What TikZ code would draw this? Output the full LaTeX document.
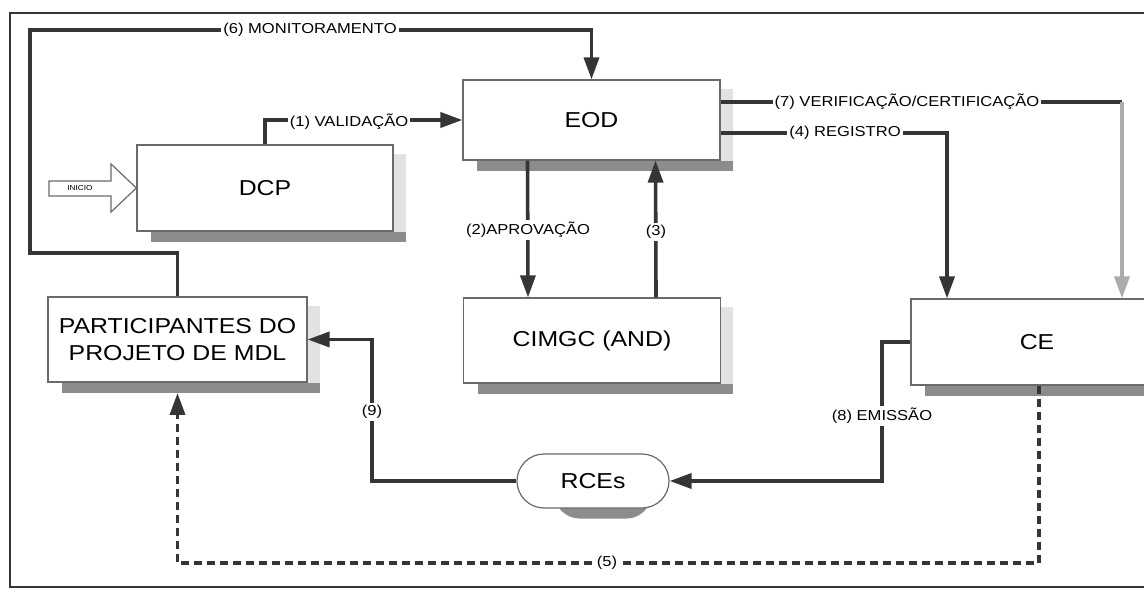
\documentclass[tikz,border=0pt]{standalone}
\usepackage{fontspec}
\setmainfont{Liberation Sans}[FakeStretch=1.15]
\usetikzlibrary{arrows.meta,shapes.misc,backgrounds,calc}
\definecolor{ink}{HTML}{353535}
\definecolor{boxline}{HTML}{6A6A6A}
\definecolor{shdark}{HTML}{8C8C8C}
\definecolor{shlight}{HTML}{E2E2E2}
\begin{document}
\begin{tikzpicture}[x=0.5pt,y=-0.5pt,
  box/.style={draw=boxline,line width=0.6pt,fill=white,inner sep=0pt,
    font=\fontsize{10.8}{13.5}\selectfont,align=center},
  conn/.style={draw=ink,line width=1.8pt},
  arr/.style={-{Triangle[length=11pt,width=7.5pt]}},
  lbl/.style={fill=white,inner sep=1pt,font=\fontsize{7.2}{8}\selectfont},
  frame/.style={draw=ink,line width=0.8pt}]
\useasboundingbox (0,0) rectangle (1144,592);

% boxes
\node[box,minimum width=128.5pt,minimum height=40pt] (eod) at (591.5,120) {EOD};
\node[box,minimum width=128pt,minimum height=43pt] (dcp) at (265,188) {DCP};
\node[box,minimum width=128.5pt,minimum height=42.5pt] (cimgc) at (592,340.5) {CIMGC (AND)};
\node[box,minimum width=129.5pt,minimum height=42.5pt] (part) at (177.5,339.5) {PARTICIPANTES DO\\PROJETO DE MDL};
\node[box,minimum width=126pt,minimum height=43pt] (ce) at (1037,342) {CE};
\node[box,rounded rectangle,minimum width=76pt,minimum height=27pt] (rce) at (593,481) {RCEs};

% INICIO arrow
\draw[draw=boxline,line width=0.6pt,fill=white] (49,181) -- (111,181) -- (111,164) -- (dcp.west) -- (111,212) -- (111,196) -- (49,196) -- cycle;
\node[font=\fontsize{3.6}{4}\selectfont,inner sep=0pt] (inicio) at (80,188.5) {INICIO};

% shadows and background
\begin{scope}[on background layer]
  \fill[white] (0,0) rectangle (1144,592);
  \foreach \b in {eod,dcp,cimgc,part,ce}{
    \fill[shlight] ($(\b.north east)+(0,10)$) rectangle ($(\b.south east)+(12,10)$);
    \fill[shdark] ($(\b.south west)+(15,0)$) rectangle ($(\b.south east)+(12,10)$);
  }
  \fill[shdark,rounded corners=13pt] ($(rce.north west)+(10,10)$) rectangle ($(rce.south east)+(10,10)$);
\end{scope}

% frame
\draw[frame] (1144,13) -- (10,13) -- (10,587) -- (1144,587);

% coordinates
\coordinate (c6a) at (177.5,253);
\coordinate (c6b) at (30,253);
\coordinate (c6c) at (30,30);
\coordinate (c6d) at (591.5,30);
\coordinate (c7) at (1122,102);
\coordinate (c4) at (947,133);
\coordinate (c8) at (882,481);
\coordinate (c9) at (372,481);
\coordinate (c5a) at (1039,563);
\coordinate (c5b) at (177.5,563);
\coordinate (c5t) at (177.5,393);

% connectors
\draw[conn,arr] (part.north) -- (c6a) -- (c6b) -- (c6c) -- (c6d) -- (eod.north);
\draw[conn,arr] (dcp.north) |- (eod.west);
\draw[conn] (eod.east |- c7) -- (c7);
\draw[conn,draw=gray!65,arr] (c7) -- (c7 |- ce.north);
\draw[conn,arr] (eod.east |- c4) -- (c4) -- (c4 |- ce.north);
\draw[conn,arr] ([xshift=-32pt]eod.south) -- ([xshift=-32pt]cimgc.north);
\draw[conn,arr] ([xshift=32pt]cimgc.north) -- ([xshift=32pt]eod.south);
\draw[conn,arr] (ce.west) -- (ce.west -| c8) -- (c8) -- (rce.east);
\draw[conn,arr] (rce.west) -- (c9) -- (c9 |- part.east) -- (part.east);
\draw[conn,arr,dash pattern=on 4pt off 2.5pt] (ce.south -| c5a) -- (c5a) -- (c5b) -- (c5t);

% labels
\node[lbl] (l6) at (310,30) {(6) MONITORAMENTO};
\node[lbl] (l1) at (349,122) {(1) VALIDAÇÃO};
\node[lbl] (l7) at (907,102) {(7) VERIFICAÇÃO/CERTIFICAÇÃO};
\node[lbl] (l4) at (845,133) {(4) REGISTRO};
\node[lbl] (l2) at (528,230) {(2)APROVAÇÃO};
\node[lbl] (l3) at (656,232) {(3)};
\node[lbl] (l8) at (882,416) {(8) EMISSÃO};
\node[lbl] (l9) at (372,412) {(9)};
\node[lbl] (l5) at (607,563) {(5)};
\end{tikzpicture}
\end{document}
